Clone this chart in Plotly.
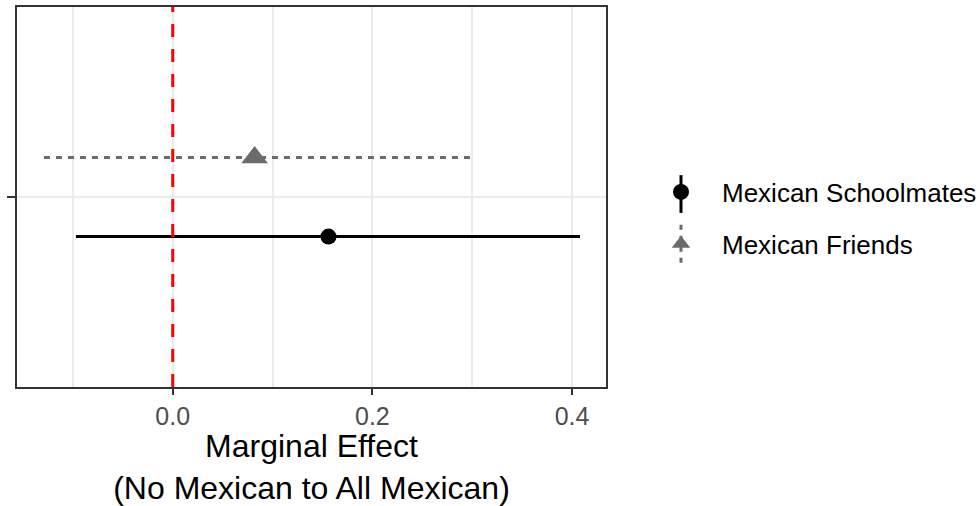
import plotly.graph_objects as go

# ---- data ----
series = ["Mexican Schoolmates", "Mexican Friends"]
estimates = [0.156, 0.082]
ci_low = [-0.097, -0.129]
ci_high = [0.408, 0.300]
y_dodge = [0.875, 1.125]          # position_dodge of the single category
colors = ["#000000", "#6B6B6B"]
symbols = ["circle", "triangle-up"]
marker_sizes = [16, 23]
dashes = ["solid", "6px,6px"]
x_ticks = [0.0, 0.2, 0.4]
x_minor = [-0.1, 0.1, 0.3]
x_title = "Marginal Effect<br>(No Mexican to All Mexican)"

FONT = "Liberation Sans, Arial, Helvetica, sans-serif"
W, H = 979, 506
L, R, T, B = 17, 373, 5, 119

fig = go.Figure()

# reference line at zero
fig.add_vline(x=0, line=dict(color="#FF0000", width=3, dash="13px,12px"), layer="above")

for i, name in enumerate(series):
    fig.add_trace(go.Scatter(
        x=[ci_low[i], ci_high[i]], y=[y_dodge[i], y_dodge[i]],
        mode="lines", line=dict(color=colors[i], width=3, dash=dashes[i]),
        showlegend=False, hoverinfo="skip"))
for i, name in enumerate(series):
    fig.add_trace(go.Scatter(
        x=[estimates[i]], y=[y_dodge[i]], mode="markers", name=name,
        marker=dict(color=colors[i], symbol=symbols[i], size=marker_sizes[i],
                    line=dict(width=0)),
        legendgroup=name, showlegend=True))

pw = W - L - R
ph = H - T - B
def px_x(p):
    return (p - L) / pw
def px_y(p):
    return 1 - (p - T) / ph

KEY_X = 681
# vertical strokes of the legend keys
fig.add_shape(type="line", xref="paper", yref="paper",
              x0=px_x(KEY_X), x1=px_x(KEY_X), y0=px_y(174), y1=px_y(212),
              line=dict(color=colors[0], width=3))
fig.add_shape(type="line", xref="paper", yref="paper",
              x0=px_x(KEY_X), x1=px_x(KEY_X), y0=px_y(224), y1=px_y(266),
              line=dict(color=colors[1], width=3, dash="5px,6px"))

axis_common = dict(
    showline=True, mirror=True, linecolor="#333333", linewidth=1.5,
    ticks="outside", tickcolor="#333333", tickwidth=1.5,
    zeroline=False, gridcolor="#EBEBEB", gridwidth=2,
)

fig.update_xaxes(
    range=[-0.156, 0.434], tickvals=x_ticks, ticktext=["0.0", "0.2", "0.4"],
    ticklen=6, tickfont=dict(family=FONT, size=25, color="#4D4D4D"),
    minor=dict(tickvals=x_minor, showgrid=True, gridcolor="#EBEBEB", gridwidth=1.5, ticks=""),
    title=dict(text=x_title, font=dict(family=FONT, size=32, color="#000000"), standoff=7),
    **axis_common)
fig.update_yaxes(
    range=[0.4, 1.6], tickvals=[1], ticktext=[""], ticklen=8,
    **axis_common)

fig.update_layout(
    width=W, height=H,
    margin=dict(l=L, r=R, t=T, b=B),
    plot_bgcolor="white", paper_bgcolor="white",
    font=dict(family=FONT, color="#000000"),
    legend=dict(
        xref="container", yref="container",
        x=(KEY_X - 41) / W, xanchor="left", y=1 - 218 / H, yanchor="middle",
        font=dict(family=FONT, size=26, color="#000000"),
        bgcolor="rgba(0,0,0,0)", tracegroupgap=15, traceorder="grouped",
        itemsizing="trace", itemwidth=72,
    ),
    showlegend=True,
)

fig.write_html("out.html")
